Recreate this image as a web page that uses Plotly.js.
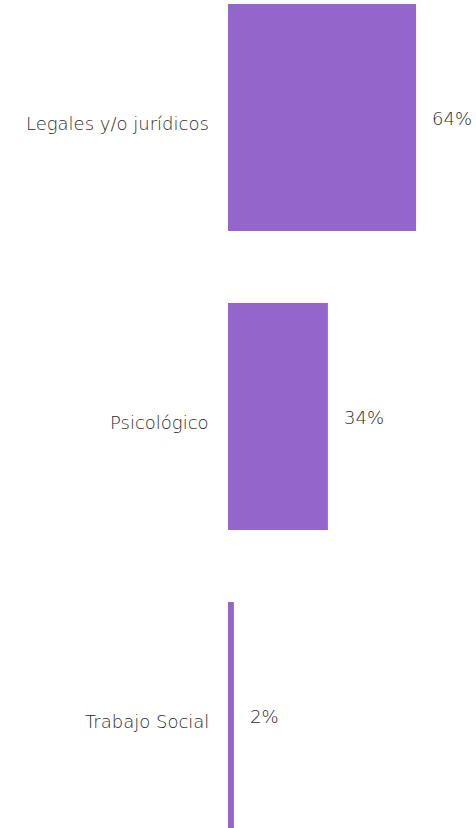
<!DOCTYPE html>
<html><head><meta charset="utf-8">
<script src="https://cdn.plot.ly/plotly-3.0.1.min.js"></script>
<style>html,body{margin:0;padding:0;background:#fff;}#chart{width:476px;height:828px;}</style>
</head><body><div id="chart"></div>
<script>
const categories = ["Legales y/o jurídicos", "Psicológico", "Trabajo Social"];
const values = [64, 34, 2];
const valueLabels = ["64%", "34%", "2%"];

const font = {family: "'DejaVu Sans', sans-serif", size: 18, color: "#2a2a2a", weight: 200};

const trace = {
  type: "bar", orientation: "h",
  x: values, y: categories,
  marker: {color: "#9466CC"},
  hoverinfo: "none"
};

const valueAnn = categories.map((c, i) => ({
  x: values[i], y: c, xref: "x", yref: "y",
  text: valueLabels[i], showarrow: false,
  xanchor: "left", xshift: 14, yshift: -1, font: font
}));
const labelAnn = categories.map((c) => ({
  x: 0, y: c, xref: "paper", yref: "y",
  text: c, showarrow: false,
  xanchor: "right", xshift: -17, yshift: -6, font: font
}));

const layout = {
  width: 476, height: 828,
  margin: {l: 228, r: 0, t: 0, b: 0},
  paper_bgcolor: "#fff", plot_bgcolor: "#fff",
  bargap: 0.241,
  showlegend: false,
  xaxis: {range: [0, 84.4], visible: false, fixedrange: true},
  yaxis: {
    type: "category", autorange: false, range: [2.376, -0.393],
    showgrid: false, zeroline: false, showline: false, ticks: "",
    showticklabels: false, fixedrange: true
  },
  annotations: valueAnn.concat(labelAnn)
};

Plotly.newPlot("chart", [trace], layout, {displayModeBar: false, staticPlot: true});
</script></body></html>
